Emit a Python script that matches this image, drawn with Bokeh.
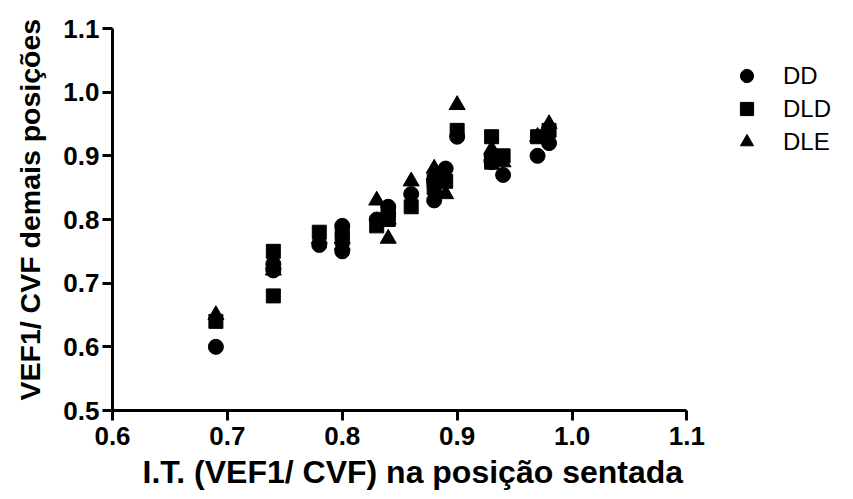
from bokeh.plotting import figure
from bokeh.models import FixedTicker, PrintfTickFormatter, Legend, LegendItem, Title
from bokeh.embed import file_html
from bokeh.resources import INLINE

# I.T. (VEF1/CVF) sentada
x_vals = [0.69, 0.74, 0.74, 0.78, 0.80, 0.80, 0.83, 0.84, 0.84, 0.86, 0.88, 0.88, 0.89, 0.90, 0.93, 0.93, 0.94, 0.97, 0.98]
dd_vals = [0.60, 0.72, 0.73, 0.76, 0.75, 0.79, 0.80, 0.82, 0.81, 0.84, 0.83, 0.86, 0.88, 0.93, 0.90, 0.89, 0.87, 0.90, 0.92]
dld_vals = [0.64, 0.75, 0.68, 0.78, 0.77, 0.78, 0.79, 0.80, 0.81, 0.82, 0.85, 0.86, 0.86, 0.94, 0.93, 0.89, 0.90, 0.93, 0.94]
dle_vals = [0.65, 0.72, 0.73, 0.77, 0.76, 0.77, 0.83, 0.77, 0.80, 0.86, 0.88, 0.87, 0.84, 0.98, 0.90, 0.91, 0.89, 0.93, 0.95]
series_names = ["DD", "DLD", "DLE"]
x_ticks = [0.6, 0.7, 0.8, 0.9, 1.0, 1.1]
y_ticks = [0.5, 0.6, 0.7, 0.8, 0.9, 1.0, 1.1]
x_title = "I.T. (VEF1/ CVF) na posição sentada"
y_title = "VEF1/ CVF demais posições"

FONT = "Liberation Sans"

# frame extends to the right so the legend can sit inside it; the x axis itself stops at 1.1
p = figure(width=853, height=499, x_range=(0.6, 1.245), y_range=(0.5, 1.1),
           output_backend="svg", toolbar_location=None,
           min_border_left=110, min_border_right=0, min_border_top=28, min_border_bottom=89)
p.outline_line_color = None
p.xgrid.visible = False
p.ygrid.visible = False

r1 = p.scatter(x_vals, dd_vals, marker="circle", size=15, color="black")
r2 = p.scatter(x_vals, dld_vals, marker="square", size=14, color="black")
r3 = p.scatter(x_vals, dle_vals, marker="triangle", size=16, color="black")

for ax, ticks in ((p.xaxis, x_ticks), (p.yaxis, y_ticks)):
    ax.ticker = FixedTicker(ticks=ticks)
    ax.formatter = PrintfTickFormatter(format="%.1f")
    ax.axis_line_width = 3
    ax.axis_line_color = "black"
    ax.major_tick_line_width = 3
    ax.major_tick_line_color = "black"
    ax.major_tick_out = 10
    ax.major_tick_in = 0
    ax.minor_tick_line_color = None
    ax.major_label_text_font = FONT
    ax.major_label_text_font_style = "bold"
    ax.major_label_text_font_size = "26px"
    ax.major_label_text_color = "black"

p.xaxis.bounds = (0.6, 1.1)
p.xaxis.major_label_standoff = 6
p.yaxis.major_label_standoff = 3

xt = Title(text=x_title, align="left", offset=30, standoff=8,
           text_font=FONT, text_font_style="bold", text_font_size="32px", text_color="black")
p.add_layout(xt, "below")
yt = Title(text=y_title, align="left", offset=10, vertical_align="top", standoff=26,
           text_font=FONT, text_font_style="bold", text_font_size="28.5px", text_color="black")
p.add_layout(yt, "left")

legend = Legend(items=[LegendItem(label=series_names[0], renderers=[r1]),
                       LegendItem(label=series_names[1], renderers=[r2]),
                       LegendItem(label=series_names[2], renderers=[r3])],
                location=(618, 252))
legend.glyph_width = 33
legend.glyph_height = 33
legend.label_height = 33
legend.spacing = 0
legend.padding = 0
legend.margin = 0
legend.label_standoff = 20
legend.border_line_color = None
legend.background_fill_alpha = 0
legend.label_text_font = FONT
legend.label_text_font_size = "24px"
legend.label_text_color = "black"
p.add_layout(legend, "center")

open("out.html", "w").write(file_html(p, INLINE))
